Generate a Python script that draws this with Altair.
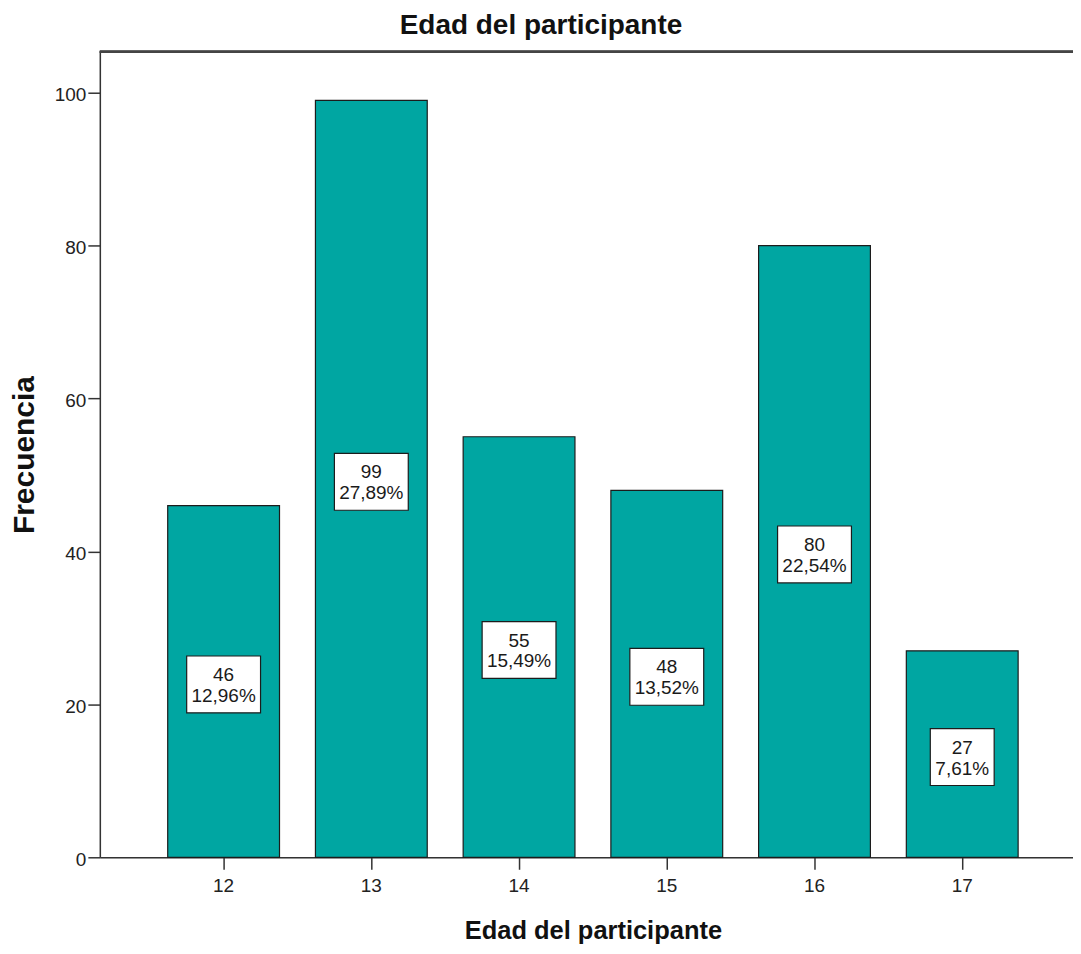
import altair as alt
import pandas as pd

ages = ["12", "13", "14", "15", "16", "17"]
counts = [46, 99, 55, 48, 80, 27]
percents = [12.96, 27.89, 15.49, 13.52, 22.54, 7.61]
chart_title = ["Edad del participante"]

df = pd.DataFrame({"edad": ages, "n": counts, "pct": percents})

W = 975
H = 807
YMAX = 105.35
FONT = "Liberation Sans"
BOX_HALF = 28.5 * YMAX / H  # half box height in data units

xscale = alt.Scale(paddingInner=0.2432, paddingOuter=0.4155, align=0.553)
yscale = alt.Scale(domain=[0, YMAX], nice=False, zero=True)

base = alt.Chart(df).transform_calculate(
    pctlabel="replace(format(datum.pct, '.2f'), '.', ',') + '%'",
    mid="datum.n / 2",
).transform_calculate(
    boxw="10 * length(datum.pctlabel) + 14",
    lo="datum.mid - " + str(BOX_HALF),
    hi="datum.mid + " + str(BOX_HALF),
)

xenc = alt.X(
    "edad:O",
    sort=ages,
    scale=xscale,
    axis=alt.Axis(
        title="Edad del participante",
        labelAngle=0,
        labelFont=FONT,
        labelFontSize=19,
        labelColor="#222222",
        labelPadding=7,
        tickSize=12,
        tickWidth=1.5,
        tickColor="#333333",
        domainColor="#333333",
        domainWidth=1.5,
        titleFont=FONT,
        titleFontSize=25.5,
        titleFontWeight="bold",
        titleColor="#111111",
        titleX=494,
        titleY=73,
        titleAlign="center",
        titleBaseline="middle",
    ),
)

bars = base.mark_bar(color="#00A6A2", stroke="#1c1c1c", strokeWidth=1.2).encode(
    x=xenc,
    y=alt.Y(
        "n:Q",
        scale=yscale,
        axis=alt.Axis(
            title="Frecuencia",
            values=[0, 20, 40, 60, 80, 100],
            grid=False,
            labelFont=FONT,
            labelFontSize=19,
            labelColor="#222222",
            labelPadding=2,
            labelOffset=2,
            tickSize=12,
            tickWidth=1.5,
            tickColor="#333333",
            domainColor="#333333",
            domainWidth=1.5,
            titleFont=FONT,
            titleFontSize=30,
            titleFontWeight="bold",
            titleColor="#111111",
            titleX=-75,
            titleY=H / 2,
            titleAngle=270,
            titleAlign="center",
            titleBaseline="middle",
        ),
    ),
)

boxes = base.mark_bar(color="white", stroke="#1c1c1c", strokeWidth=1.2, yOffset=3, y2Offset=3).encode(
    x=alt.X("edad:O", sort=ages, scale=xscale),
    y=alt.Y("lo:Q", scale=yscale),
    y2="hi:Q",
    size=alt.Size("boxw:Q", scale=None, legend=None),
)

txt_n = base.mark_text(font=FONT, fontSize=19, color="#1a1a1a", dy=-6.5, baseline="middle").encode(
    x=alt.X("edad:O", sort=ages, scale=xscale),
    y=alt.Y("mid:Q", scale=yscale),
    text="n:Q",
)

txt_p = base.mark_text(font=FONT, fontSize=19, color="#1a1a1a", dy=14.5, baseline="middle").encode(
    x=alt.X("edad:O", sort=ages, scale=xscale),
    y=alt.Y("mid:Q", scale=yscale),
    text="pctlabel:N",
)

top_border = alt.Chart(df).mark_rule(color="#444444", strokeWidth=2).encode(
    x=alt.value(0), x2=alt.value(W), y=alt.value(0)
)

title_txt = alt.Chart(pd.DataFrame({"t": chart_title})).mark_text(
    font=FONT, fontSize=28, fontWeight="bold", color="#111111",
    align="center", baseline="middle",
).encode(
    x=alt.value(442), y=alt.value(-25.5), text="t:N"
)

chart = alt.layer(bars, boxes, txt_n, txt_p, top_border, title_txt).properties(
    width=W,
    height=H,
    padding={"left": 92, "top": 43, "right": 0, "bottom": 88},
    autosize=alt.AutoSizeParams(type="none"),
).configure_view(
    fill="#F0F0F0", stroke=None
).configure(
    background="white"
)

chart.save("out.html", embed_options={"renderer": "svg", "actions": False})
